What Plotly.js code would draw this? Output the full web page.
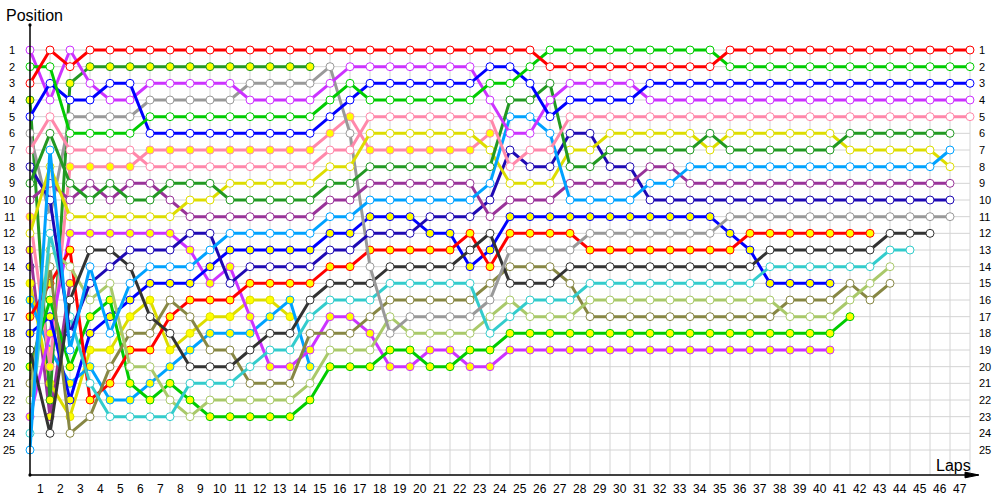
<!DOCTYPE html>
<html><head><meta charset="utf-8">
<script src="https://cdn.plot.ly/plotly-3.0.1.min.js"></script>
<style>html,body{margin:0;padding:0;background:#fff}#chart{width:1000px;height:500px}</style>
</head><body><div id="chart"></div>
<script>
// lap labels and position labels
const lapLabels = [1,2,3,4,5,6,7,8,9,10,11,12,13,14,15,16,17,18,19,20,21,22,23,24,25,26,27,28,29,30,31,32,33,34,35,36,37,38,39,40,41,42,43,44,45,46,47];
const positionLabels = [1,2,3,4,5,6,7,8,9,10,11,12,13,14,15,16,17,18,19,20,21,22,23,24,25];

// position of each car per lap (index = lap, starting at lap 0 = grid)
const redWhite    = [3,1,2,1,1,1,1,1,1,1, 1,1,1,1,1,1,1,1,1,1, 1,1,1,1,1,1,2,2,2,2, 2,2,2,2,2,1,1,1,1,1, 1,1,1,1,1,1,1,1];
const greenWhite  = [2,2,6,6,6,6,5,5,5,5, 5,5,5,5,5,4,3,4,4,4, 4,4,4,3,3,2,1,1,1,1, 1,1,1,1,1,2,2,2,2,2, 2,2,2,2,2,2,2,2];
const blueWhite   = [5,3,4,4,3,3,6,6,6,6, 6,6,6,6,6,5,4,3,3,3, 3,3,3,2,2,3,5,4,4,4, 4,3,3,3,3,3,3,3,3,3, 3,3,3,3,3,3,3,3];
const violetWhite = [1,4,1,3,4,4,3,3,3,3, 3,4,4,4,4,3,2,2,2,2, 2,2,2,4,6,6,4,3,3,3, 3,4,4,4,4,4,4,4,4,4, 4,4,4,4,4,4,4,4];
const pinkWhite   = [7,5,7,7,7,7,8,8,8,8, 8,8,8,8,8,7,7,5,5,5, 5,5,5,5,8,7,7,5,5,5, 5,5,5,5,5,5,5,5,5,5, 5,5,5,5,5,5,5,5];
const dkGreenWhite= [9,6,9,10,9,10,10,9,9,9, 10,10,10,10,10,9,9,8,8,8, 8,8,8,8,4,4,3,8,8,7, 7,7,7,7,6,7,7,7,7,7, 7,6,6,6,6,6,6];
const skyWhite    = [25,7,19,14,18,15,14,14,14,13, 12,12,12,12,12,11,11,10,10,10, 10,10,10,9,5,5,6,10,10,10, 10,9,9,8,8,8,8,8,8,8, 8,8,8,8,8,8,7];
const yellowWhite = [12,8,11,11,11,11,11,11,10,10, 9,9,9,9,9,8,8,6,6,6, 6,6,6,7,9,9,9,7,7,6, 6,6,6,6,7,6,6,6,6,6, 6,7,7,7,7,7,8];
const purpleWhite = [10,9,10,9,10,9,9,10,11,11, 11,11,11,11,11,10,10,9,9,9, 9,9,9,11,10,10,10,9,9,9, 9,8,8,9,9,9,9,9,9,9, 9,9,9,9,9,9,9];
const navyWhite   = [8,10,18,15,14,13,13,13,12,12, 15,14,14,14,14,13,13,12,12,12, 11,11,11,10,7,8,8,6,6,8, 8,10,10,10,10,10,10,10,10,10, 10,10,10,10,10,10,10];
const grayWhite   = [6,11,5,5,5,5,4,4,4,4, 4,3,3,3,3,2,6,14,18,17, 17,17,17,16,13,13,13,13,12,12, 12,12,12,12,12,11,11,11,11,11, 11,11,11,11,11,11,11];
const dkGrayWhite = [19,24,16,13,13,14,17,18,20,20, 20,19,18,18,16,15,15,15,14,14, 14,14,13,12,15,15,15,14,14,14, 14,14,14,14,14,14,14,13,13,13, 13,13,13,12,12,12];
const cyanWhite   = [24,12,17,21,23,23,23,23,21,21, 21,20,19,19,17,16,16,16,15,15, 15,15,15,18,17,16,16,16,15,15, 15,15,15,15,15,15,15,14,14,14, 14,14,14,13,13];
const paleWhite   = [22,13,14,16,15,20,20,22,23,22, 22,22,22,22,21,19,19,19,17,18, 18,18,18,17,16,17,17,17,16,16, 16,16,16,16,16,16,16,16,17,17, 17,16,15,14];
const oliveWhite  = [21,14,24,23,20,18,18,16,17,19, 19,21,21,21,18,18,18,17,16,16, 16,16,16,15,14,14,14,15,17,17, 17,17,17,17,17,17,17,17,16,16, 16,15,16,15];
const redYellow   = [17,15,13,22,21,19,19,17,16,16, 16,15,15,15,15,14,14,13,13,13, 13,13,12,14,12,12,12,12,13,13, 13,13,13,13,13,13,12,12,12,12, 12,12,12];
const greenYellow = [20,16,20,17,16,21,22,21,22,23, 23,23,23,23,22,20,20,20,19,19, 20,20,19,19,18,18,18,18,18,18, 18,18,18,18,18,18,18,18,18,18, 18,17];
const blueYellow  = [18,17,22,18,17,16,15,15,15,14, 13,13,13,13,13,12,12,11,11,11, 12,12,14,13,11,11,11,11,11,11, 11,11,11,11,11,12,13,15,15,15, 15];
const violetYellow= [23,18,12,12,12,12,12,12,13,15, 14,17,20,20,19,17,17,18,20,20, 19,19,20,20,19,19,19,19,19,19, 19,19,19,19,19,19,19,19,19,19, 19];
const pinkYellow  = [11,20,8,8,8,8,7,7,7,7, 7,7,7,7,7,6,5,7,7,7, 7,7,7,6];
const dkGreenYellow=[4,22,3,2,2,2,2,2,2,2, 2,2,2,2,2];
const skyYellow   = [16,19,21,20,22,22,21,20,19,18, 18,18,17,16,20];
const yellowYellow= [15,21,23,19,19,17,16,19,18,17, 17,16,16,17];
const purpleYellow= [13,23,15];
const navyYellow  = [14];

const cars = [
  [redWhite,'#ff0000','#ffffff'], [greenWhite,'#00cc00','#ffffff'], [blueWhite,'#0000ff','#ffffff'],
  [violetWhite,'#cc33ff','#ffffff'], [pinkWhite,'#ff88aa','#ffffff'], [dkGreenWhite,'#229922','#ffffff'],
  [skyWhite,'#00a2ff','#ffffff'], [yellowWhite,'#dddd00','#ffffff'], [purpleWhite,'#993399','#ffffff'],
  [navyWhite,'#1f0ab4','#ffffff'], [grayWhite,'#999999','#ffffff'], [dkGrayWhite,'#333333','#ffffff'],
  [cyanWhite,'#33cccc','#ffffff'], [paleWhite,'#a9c96a','#ffffff'], [oliveWhite,'#878744','#ffffff'],
  [redYellow,'#ff0000','#ffff00'], [greenYellow,'#00cc00','#ffff00'], [blueYellow,'#0000ff','#ffff00'],
  [violetYellow,'#cc33ff','#ffff00'], [pinkYellow,'#ff88aa','#ffff00'], [dkGreenYellow,'#229922','#ffff00'],
  [skyYellow,'#00a2ff','#ffff00'], [yellowYellow,'#dddd00','#ffff00'], [purpleYellow,'#993399','#ffff00'],
  [navyYellow,'#1f0ab4','#ffff00']
];

const traces = cars.slice().reverse().map(([pos, col, fill]) => ({
  type: 'scatter', mode: 'lines+markers',
  x: pos.map((_, lap) => lap), y: pos,
  line: {color: col, width: 3},
  marker: {symbol: 'circle', size: 8, color: fill, line: {color: col, width: 1}},
  hoverinfo: 'skip', showlegend: false, cliponaxis: false
}));

const gridCol = '#d4d4d4';
const shapes = [];
lapLabels.forEach(n => shapes.push({type:'line', xref:'x', yref:'y', x0:n, x1:n, y0:1, y1:26.5, line:{color:gridCol, width:1}, layer:'below'}));
positionLabels.forEach(p => shapes.push({type:'line', xref:'x', yref:'y', x0:0, x1:47, y0:p, y1:p, line:{color:gridCol, width:1}, layer:'below'}));
shapes.push({type:'line', xref:'x', yref:'y', x0:0, x1:0, y0:26.5, y1:-0.5, line:{color:'#000', width:1.5}});
shapes.push({type:'line', xref:'x', yref:'y', x0:0, x1:47.4, y0:26.5, y1:26.5, line:{color:'#000', width:1.5}});
shapes.push({type:'path', xref:'x', yref:'y', path:'M 46.75 26.33 L 47.45 26.5 L 46.75 26.67 Z', fillcolor:'#000', line:{color:'#000', width:1}});
shapes.push({type:'circle', xref:'x', yref:'y', x0:-0.08, x1:0.08, y0:-0.6, y1:-0.4, fillcolor:'#000', line:{color:'#000', width:0}});
shapes.push({type:'circle', xref:'x', yref:'y', x0:-0.08, x1:0.08, y0:26.4, y1:26.6, fillcolor:'#000', line:{color:'#000', width:0}});

const labFont = {family:'Liberation Sans, Arial, sans-serif', size:11, color:'#000'};
const annotations = [];
positionLabels.forEach(p => {
  annotations.push({x:-0.65, y:p, xref:'x', yref:'y', text:String(p), showarrow:false, xanchor:'right', yanchor:'middle', font:labFont});
  annotations.push({x:47.35, y:p, xref:'x', yref:'y', text:String(p), showarrow:false, xanchor:'left', yanchor:'middle', font:labFont});
});
lapLabels.forEach(n => annotations.push({x:n-0.5, y:27.35, xref:'x', yref:'y', text:String(n), showarrow:false, xanchor:'center', yanchor:'middle', font:{family:'Liberation Sans, Arial, sans-serif', size:12, color:'#000'}}));
annotations.push({x:-1.3, y:-1.1, xref:'x', yref:'y', text:'Position', showarrow:false, xanchor:'left', yanchor:'middle', font:{family:'Liberation Sans, Arial, sans-serif', size:16, color:'#000'}});
annotations.push({x:47.15, y:25.9, xref:'x', yref:'y', text:'Laps', showarrow:false, xanchor:'right', yanchor:'middle', font:{family:'Liberation Sans, Arial, sans-serif', size:16, color:'#000'}});

const layout = {
  width:1000, height:500, autosize:false,
  margin:{l:0, r:0, t:0, b:0, pad:0},
  paper_bgcolor:'#ffffff', plot_bgcolor:'#ffffff',
  xaxis:{range:[-1.5,48.5], showgrid:false, zeroline:false, showticklabels:false, showline:false, fixedrange:true},
  yaxis:{range:[28,-2], showgrid:false, zeroline:false, showticklabels:false, showline:false, fixedrange:true},
  shapes, annotations, showlegend:false
};
Plotly.newPlot('chart', traces, layout, {displayModeBar:false, staticPlot:true});
</script></body></html>
